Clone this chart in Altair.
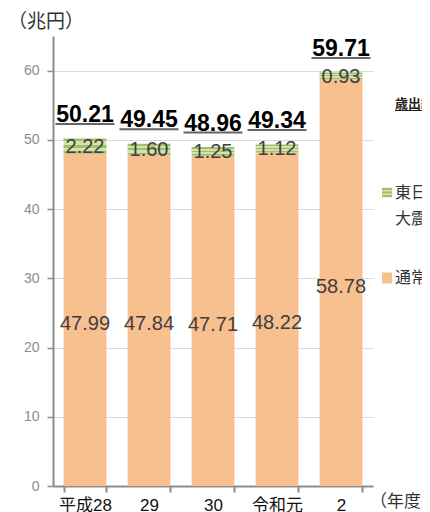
import altair as alt
import pandas as pd

years = ["平成28", "29", "30", "令和元", "2"]
regular = [47.99, 47.84, 47.71, 48.22, 58.78]
disaster = [2.22, 1.60, 1.25, 1.12, 0.93]
totals = [50.21, 49.45, 48.96, 49.34, 59.71]
series_names = ["通常収支分", "東日本大震災分"]
y_ticks = [0, 10, 20, 30, 40, 50, 60]

ORANGE = "#f8bf8f"
GREEN_LIGHT = "#d3e2b6"
GREEN_DARK = "#a2c064"
FONT = "Liberation Sans, Arial, Noto Sans CJK JP, sans-serif"
JFONT = "Noto Sans CJK JP, sans-serif"

rows = []
for i, yr in enumerate(years):
    rows.append({"year": yr, "series": series_names[0], "start": 0.0,
                 "end": regular[i], "value": regular[i]})
    rows.append({"year": yr, "series": series_names[1], "start": regular[i],
                 "end": regular[i] + disaster[i], "value": disaster[i]})
df = pd.DataFrame(rows)
df["mid"] = (df["start"] + df["end"]) / 2
tot = pd.DataFrame({"year": years, "total": totals})

x_enc = alt.X(
    "year:N", sort=years,
    scale=alt.Scale(paddingInner=0.33, paddingOuter=0.165),
    axis=alt.Axis(title=None, labelAngle=0, tickBand="extent",
                  domainColor="#8c8c8c", domainWidth=2,
                  tickColor="#8c8c8c", tickWidth=2, tickSize=6,
                  labelFontSize=17, labelColor="#111111", labelPadding=5,
                  labelFont=FONT, grid=False),
)
yscale = alt.Scale(domain=[0, 65], nice=False, zero=True)
y_axis = alt.Axis(title=None, values=y_ticks, grid=True, gridColor="#dadada",
                  gridWidth=1, domainColor="#8c8c8c", domainWidth=2,
                  tickColor="#8c8c8c", tickWidth=1.5, tickSize=6,
                  labelFontSize=14, labelColor="#8c8c8c", labelPadding=8,
                  labelFont=FONT)

base = alt.Chart(df)
reg = base.transform_filter(alt.datum.series == series_names[0])
dis = base.transform_filter(alt.datum.series == series_names[1])

stripes = alt.Gradient(
    gradient="linear", x1=0, x2=0, y1=0, y2=1,
    stops=[
        alt.GradientStop(offset=0.0, color=GREEN_DARK),
        alt.GradientStop(offset=0.2, color=GREEN_DARK),
        alt.GradientStop(offset=0.2, color=GREEN_LIGHT),
        alt.GradientStop(offset=0.4, color=GREEN_LIGHT),
        alt.GradientStop(offset=0.4, color=GREEN_DARK),
        alt.GradientStop(offset=0.6, color=GREEN_DARK),
        alt.GradientStop(offset=0.6, color=GREEN_LIGHT),
        alt.GradientStop(offset=0.8, color=GREEN_LIGHT),
        alt.GradientStop(offset=0.8, color=GREEN_DARK),
        alt.GradientStop(offset=1.0, color=GREEN_DARK),
    ],
)

bars_reg = reg.mark_bar(color=ORANGE).encode(
    x=x_enc,
    y=alt.Y("start:Q", scale=yscale, axis=y_axis),
    y2="end:Q",
)
bars_dis = dis.mark_bar(color=stripes).encode(
    x=alt.X("year:N", sort=years),
    y=alt.Y("start:Q", scale=yscale),
    y2="end:Q",
)

lab_reg = reg.mark_text(fontSize=20, color="#404040", font=FONT,
                        baseline="middle", dy=4).encode(
    x=alt.X("year:N", sort=years),
    y=alt.Y("mid:Q", scale=yscale),
    text=alt.Text("value:Q", format=".2f"),
)
lab_dis = dis.mark_text(fontSize=20, color="#404040", font=FONT,
                        baseline="middle", dy=1).encode(
    x=alt.X("year:N", sort=years),
    y=alt.Y("mid:Q", scale=yscale),
    text=alt.Text("value:Q", format=".2f"),
)

tot_base = alt.Chart(tot)
tot_text = tot_base.mark_text(fontSize=23, fontWeight="bold", color="#000000",
                              font=FONT, baseline="alphabetic", dy=-16.5).encode(
    x=alt.X("year:N", sort=years),
    y=alt.Y("total:Q", scale=yscale),
    text=alt.Text("total:Q", format=".2f"),
)
tot_line = tot_base.mark_tick(size=59, thickness=2, color="#222222",
                              yOffset=-14.5).encode(
    x=alt.X("year:N", sort=years),
    y=alt.Y("total:Q", scale=yscale),
)

one = pd.DataFrame({"k": [0]})
ann = alt.Chart(one)

unit_label = ann.mark_text(text="（兆円）", fontSize=19, color="#333333", font=JFONT,
                           align="left", baseline="middle").encode(
    x=alt.value(-45), y=alt.value(-14))
year_label = ann.mark_text(text="（年度）", fontSize=17, color="#333333", font=JFONT,
                           align="left", baseline="middle").encode(
    x=alt.value(317), y=alt.value(466))
leg_title = ann.mark_text(text="歳出総額", fontSize=13, fontWeight="bold",
                          color="#222222", font=JFONT, align="left",
                          baseline="middle").encode(
    x=alt.value(342), y=alt.value(68))
leg_title_line = ann.mark_rule(color="#222222", strokeWidth=1.2).encode(
    x=alt.value(342), x2=alt.value(420), y=alt.value(74.5))
green_box = ann.mark_rect(color=GREEN_LIGHT).encode(
    x=alt.value(329), x2=alt.value(339), y=alt.value(151.5), y2=alt.value(161.5))
green_s1 = ann.mark_rule(color=GREEN_DARK, strokeWidth=2).encode(
    x=alt.value(329), x2=alt.value(339), y=alt.value(153))
green_s2 = ann.mark_rule(color=GREEN_DARK, strokeWidth=2).encode(
    x=alt.value(329), x2=alt.value(339), y=alt.value(156.5))
green_s3 = ann.mark_rule(color=GREEN_DARK, strokeWidth=2).encode(
    x=alt.value(329), x2=alt.value(339), y=alt.value(160))
leg_g1 = ann.mark_text(text="東日本", fontSize=16, color="#333333", font=JFONT,
                       align="left", baseline="middle").encode(
    x=alt.value(342), y=alt.value(157))
leg_g2 = ann.mark_text(text="大震災分", fontSize=16, color="#333333", font=JFONT,
                       align="left", baseline="middle").encode(
    x=alt.value(342), y=alt.value(183))
orange_box = ann.mark_rect(color=ORANGE).encode(
    x=alt.value(329), x2=alt.value(339), y=alt.value(236.5), y2=alt.value(247.5))
leg_o = ann.mark_text(text="通常収支分", fontSize=16, color="#333333", font=JFONT,
                      align="left", baseline="middle").encode(
    x=alt.value(342), y=alt.value(242))

chart = alt.layer(
    bars_reg, bars_dis, lab_reg, lab_dis, tot_line, tot_text,
    unit_label, year_label, leg_title, leg_title_line,
    green_box, green_s1, green_s2, green_s3, leg_g1, leg_g2,
    orange_box, leg_o,
).properties(
    width=320, height=450,
    padding={"left": 45, "top": 28, "right": 49, "bottom": 26},
    autosize=alt.AutoSizeParams(type="none"),
    background="white",
).configure_view(stroke=None)

chart.save("out.html", embed_options={"renderer": "svg", "actions": False})
